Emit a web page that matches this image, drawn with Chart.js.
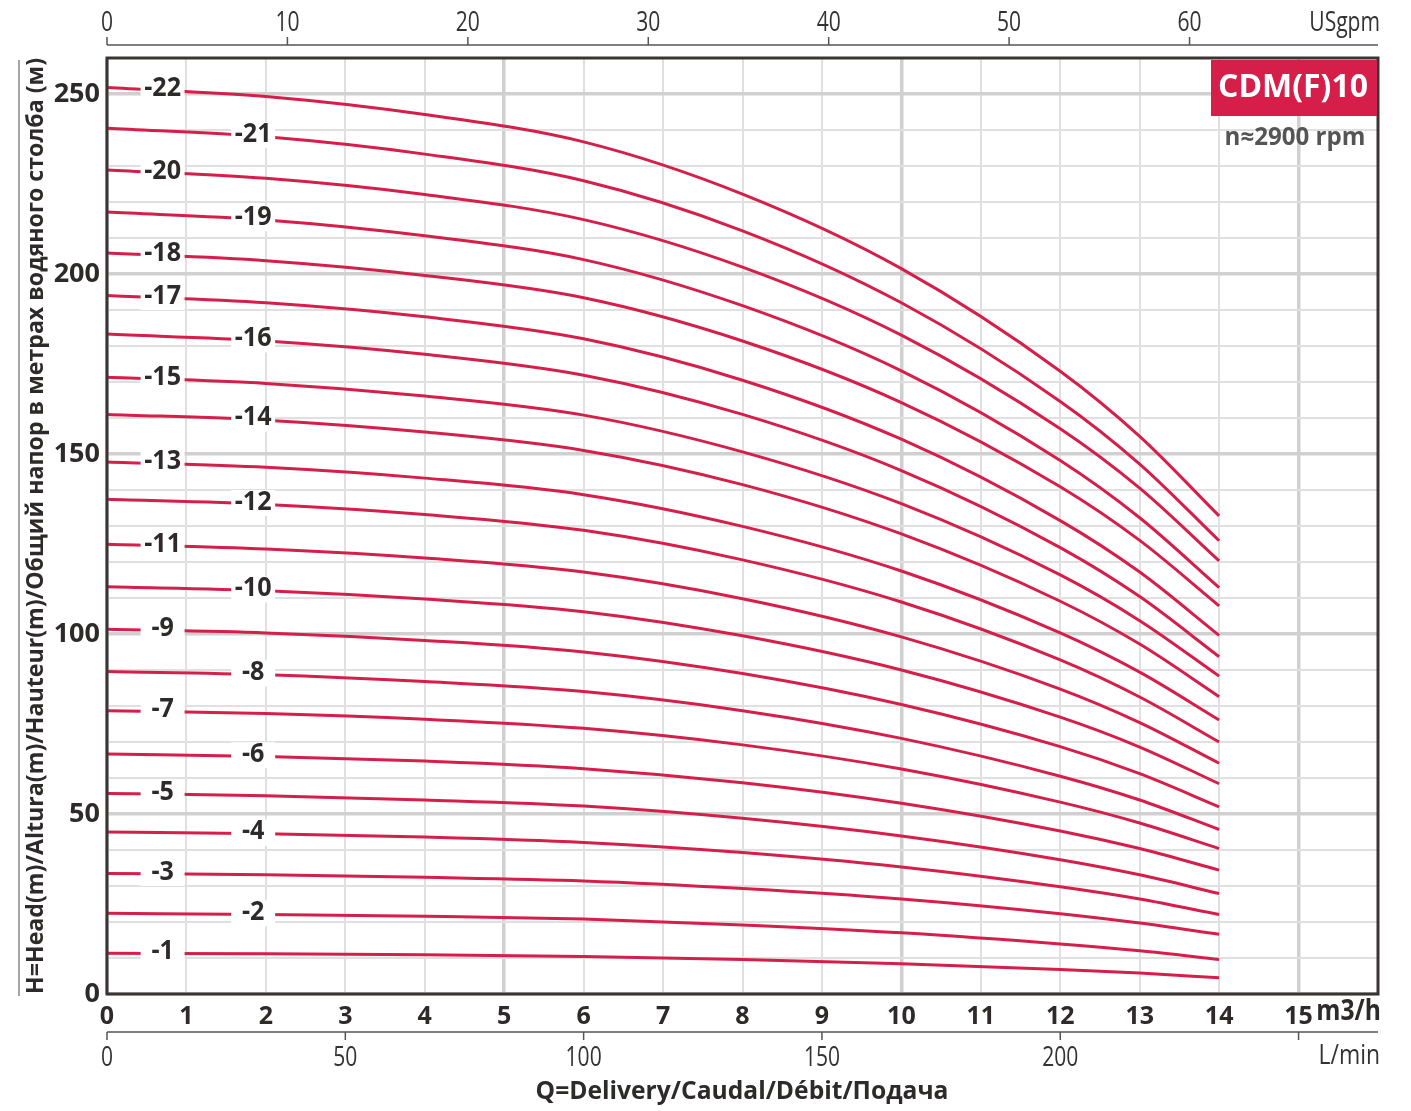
<!DOCTYPE html>
<html>
<head>
<meta charset="utf-8">
<script src="https://cdn.jsdelivr.net/npm/chart.js@4.4.0/dist/chart.umd.min.js"></script>
<style>
  html, body { margin: 0; padding: 0; background: #fff; }
  #wrap { width: 1411px; height: 1111px; }
</style>
</head>
<body>
<div id="wrap"><canvas id="myChart" width="1411" height="1111"></canvas></div>
<script>
// flow points (m3/h) where the curves were read
const flow = [0, 2, 4, 6, 8, 10, 12, 13, 14];

// head (m) per pump stage count
const head1  = [11.3, 11.2, 10.9, 10.4, 9.6, 8.4, 6.8, 5.8, 4.5];
const head2  = [22.4, 22.1, 21.6, 20.8, 19.2, 17.0, 13.9, 12.0, 9.6];
const head3  = [33.5, 33.1, 32.4, 31.4, 29.3, 26.4, 22.3, 19.7, 16.6];
const head4  = [45.0, 44.5, 43.6, 42.1, 39.3, 35.3, 29.8, 26.4, 22.1];
const head5  = [55.7, 55.1, 53.9, 52.2, 48.8, 43.9, 37.3, 33.1, 27.9];
const head6  = [66.7, 66.0, 64.7, 62.6, 58.7, 53.0, 45.3, 40.4, 34.4];
const head7  = [78.7, 77.9, 76.3, 73.8, 69.2, 62.5, 53.3, 47.5, 40.4];
const head8  = [89.6, 88.7, 86.8, 84.0, 78.7, 71.0, 60.5, 53.9, 45.7];
const head9  = [101.3, 100.3, 98.2, 95.0, 89.0, 80.4, 68.7, 61.2, 52.0];
const head10 = [113.1, 112.0, 109.7, 106.2, 99.5, 90.0, 76.9, 68.6, 58.4];
const head11 = [124.9, 123.6, 121.1, 117.2, 109.8, 99.2, 84.7, 75.4, 64.1];
const head12 = [137.4, 136.0, 133.2, 128.8, 120.6, 108.9, 92.8, 82.5, 70.0];
const head13 = [147.8, 146.3, 143.3, 138.7, 129.9, 117.5, 100.3, 89.4, 76.1];
const head14 = [161.0, 159.4, 156.1, 151.0, 141.5, 127.8, 109.1, 97.2, 82.6];
const head15 = [171.3, 169.6, 166.1, 160.8, 150.6, 136.2, 116.4, 103.7, 88.3];
const head16 = [183.3, 181.4, 177.7, 171.9, 161.0, 145.4, 124.0, 110.4, 93.7];
const head17 = [194.0, 192.0, 188.1, 182.0, 170.5, 154.1, 131.5, 117.2, 99.6];
const head18 = [205.8, 203.7, 199.6, 193.4, 181.4, 164.3, 140.9, 126.0, 107.8];
const head19 = [217.2, 215.0, 210.6, 204.0, 191.2, 173.1, 148.2, 132.3, 112.9];
const head20 = [228.9, 226.6, 222.1, 215.1, 201.9, 183.0, 157.0, 140.5, 120.3];
const head21 = [240.5, 238.1, 233.3, 225.9, 212.0, 192.0, 164.6, 147.2, 125.9];
const head22 = [251.8, 249.3, 244.3, 236.7, 222.2, 201.5, 173.0, 154.9, 132.8];

const curves = [head1, head2, head3, head4, head5, head6, head7, head8, head9, head10, head11,
  head12, head13, head14, head15, head16, head17, head18, head19, head20, head21, head22];
const curveLabels = curves.map((c, i) => '-' + (i + 1));

// tick labels of the extra axes
const usgpmTicks = [0, 10, 20, 30, 40, 50, 60];
const lminTicks = [0, 50, 100, 150, 200];

// where along the curve each label sits (m3/h)
const labelNearQ = 0.70, labelFarQ = 1.84;
const farLabelled = [2, 4, 6, 8, 10, 12, 14, 16, 19, 21];

const RED = '#d51f4a';
const INK = '#2e2a2a';
const BOLD = '"Open Sans", "DejaVu Sans", sans-serif';

function fitFont(ctx, text, width, weight, family) {
  ctx.font = weight + ' 100px ' + family;
  const w = ctx.measureText(text).width;
  return weight + ' ' + (100 * width / w).toFixed(2) + 'px ' + family;
}

// draw text squeezed horizontally (condensed look)
function narrowText(ctx, text, x, y, align, sx) {
  ctx.save();
  ctx.translate(x, y);
  ctx.scale(sx, 1);
  ctx.textAlign = align;
  ctx.fillText(text, 0, 0);
  ctx.restore();
}

function valueAt(data, q) {
  for (let i = 1; i < flow.length; i++) {
    if (q <= flow[i]) {
      const t = (q - flow[i - 1]) / (flow[i] - flow[i - 1]);
      return data[i - 1] + t * (data[i] - data[i - 1]);
    }
  }
  return data[data.length - 1];
}

const decorPlugin = {
  id: 'decor',
  afterDatasetsDraw(chart) {
    const ctx = chart.ctx;
    const xs = chart.scales.x, ys = chart.scales.y;
    ctx.save();
    // curve labels
    curves.forEach((c, i) => {
      const stage = i + 1;
      const q = farLabelled.includes(stage) ? labelFarQ : labelNearQ;
      const px = xs.getPixelForValue(q);
      const py = ys.getPixelForValue(valueAt(c, q));
      ctx.fillStyle = '#fff';
      ctx.fillRect(px - 22, py - 14, 44, 26);
      ctx.fillStyle = INK;
      ctx.font = '700 27px ' + BOLD;
      ctx.textBaseline = 'middle';
      narrowText(ctx, curveLabels[i], px, py - 2, 'center', 0.93);
    });
    ctx.restore();
  },
  afterDraw(chart) {
    const ctx = chart.ctx;
    const a = chart.chartArea;
    const xs = chart.scales.x;
    ctx.save();
    // frame
    ctx.strokeStyle = '#3a3434';
    ctx.lineWidth = 3;
    ctx.strokeRect(a.left, a.top, a.right - a.left, a.bottom - a.top);

    // top USgpm axis
    ctx.strokeStyle = '#555';
    ctx.lineWidth = 1.5;
    ctx.beginPath();
    ctx.moveTo(a.left, 45); ctx.lineTo(a.right, 45);
    ctx.stroke();
    ctx.fillStyle = '#333';
    ctx.font = '400 27px ' + BOLD;
    ctx.textBaseline = 'middle';
    usgpmTicks.forEach(g => {
      const px = xs.getPixelForValue(g * 0.2271247);
      ctx.beginPath(); ctx.moveTo(px, 45); ctx.lineTo(px, 37); ctx.stroke();
      narrowText(ctx, String(g), px, 23, 'center', 0.78);
    });
    narrowText(ctx, 'USgpm', 1380, 23, 'right', 0.78);

    // bottom L/min axis
    ctx.beginPath();
    ctx.moveTo(a.left, 1032); ctx.lineTo(a.right, 1032);
    ctx.stroke();
    lminTicks.forEach(v => {
      const px = xs.getPixelForValue(v * 0.06);
      ctx.beginPath(); ctx.moveTo(px, 1032); ctx.lineTo(px, 1040); ctx.stroke();
      narrowText(ctx, String(v), px, 1058, 'center', 0.78);
    });
    const px250 = xs.getPixelForValue(250 * 0.06);
    ctx.beginPath(); ctx.moveTo(px250, 1032); ctx.lineTo(px250, 1040); ctx.stroke();
    narrowText(ctx, 'L/min', 1380, 1056, 'right', 0.85);

    // unit after 15
    ctx.fillStyle = INK;
    ctx.font = '700 29px ' + BOLD;
    narrowText(ctx, 'm3/h', 1381, 1012, 'right', 0.85);

    // x title
    const xt = 'Q=Delivery/Caudal/Débit/Подача';
    ctx.font = fitFont(ctx, xt, 413, '700', BOLD);
    ctx.textAlign = 'center';
    ctx.fillText(xt, 742, 1092);

    // y title
    const yt = 'H=Head(m)/Altura(m)/Hauteur(m)/Общий напор в метрах водяного столба (м)';
    ctx.translate(36, 526);
    ctx.rotate(-Math.PI / 2);
    ctx.font = fitFont(ctx, yt, 936, '700', BOLD);
    ctx.fillText(yt, 0, 0);
    ctx.setTransform(1, 0, 0, 1, 0, 0);
    ctx.strokeStyle = '#888';
    ctx.lineWidth = 1.5;
    ctx.beginPath(); ctx.moveTo(19, 60); ctx.lineTo(19, 996); ctx.stroke();

    // model box
    ctx.fillStyle = RED;
    ctx.fillRect(1211, 60, 166, 56);
    ctx.fillStyle = '#fff';
    ctx.font = fitFont(ctx, 'CDM(F)10', 150, '700', BOLD);
    ctx.textAlign = 'center';
    ctx.fillText('CDM(F)10', 1293, 88);
    ctx.fillStyle = '#555';
    ctx.font = fitFont(ctx, 'n≈2900 rpm', 141, '700', BOLD);
    ctx.fillText('n≈2900 rpm', 1295, 138);
    ctx.restore();
  }
};

const ctx = document.getElementById('myChart');
new Chart(ctx, {
  type: 'line',
  data: {
    datasets: curves.map((c, i) => ({
      label: curveLabels[i],
      data: flow.map((q, j) => ({ x: q, y: c[j] })),
      borderColor: RED,
      borderWidth: 3,
      pointRadius: 0,
      fill: false,
      cubicInterpolationMode: 'monotone'
    }))
  },
  plugins: [decorPlugin],
  options: {
    responsive: false,
    animation: false,
    devicePixelRatio: 1,
    layout: { padding: { left: 0, top: 58, right: 33, bottom: 0 } },
    plugins: { legend: { display: false }, tooltip: { enabled: false } },
    scales: {
      x: {
        type: 'linear',
        min: 0,
        max: 16,
        border: { display: false },
        grid: {
          drawTicks: false,
          color: (c) => c.tick && c.tick.value % 5 === 0 ? '#d0d0d0' : '#e0e0e0',
          lineWidth: (c) => c.tick && c.tick.value % 5 === 0 ? 3.5 : 2
        },
        ticks: {
          stepSize: 1,
          autoSkip: false,
          maxRotation: 0,
          padding: 8,
          color: INK,
          font: { family: BOLD, size: 25, weight: '700' },
          callback: (v) => v <= 15 ? String(v) : ''
        },
        afterFit: (s) => { s.height = 117; }
      },
      y: {
        min: 0,
        max: 260,
        border: { display: false },
        grid: {
          drawTicks: false,
          color: (c) => c.tick && c.tick.value % 50 === 0 ? '#d0d0d0' : '#e0e0e0',
          lineWidth: (c) => c.tick && c.tick.value % 50 === 0 ? 3.5 : 2
        },
        ticks: {
          stepSize: 10,
          autoSkip: false,
          padding: 7,
          color: INK,
          font: { family: BOLD, size: 27, weight: '700' },
          callback: (v) => v % 50 === 0 ? String(v) : ''
        },
        afterFit: (s) => { s.width = 107; }
      }
    }
  }
});
</script>
</body>
</html>
